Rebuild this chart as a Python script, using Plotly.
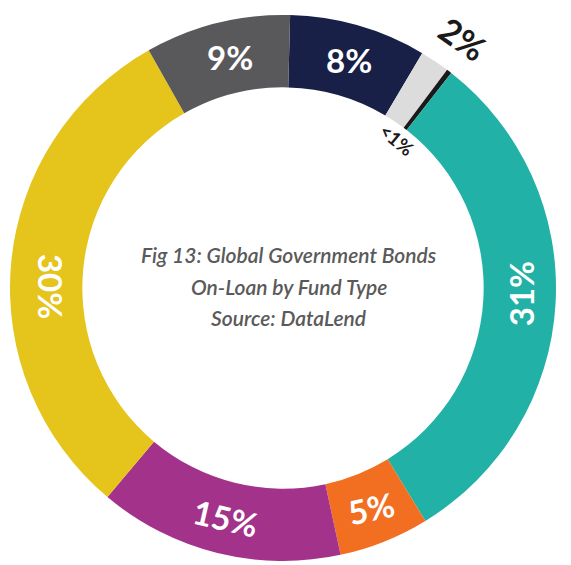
import math
import plotly.graph_objects as go

# Data (clockwise from 12 o'clock)
categories = ["Navy", "Light grey", "Black", "Teal", "Orange", "Purple", "Yellow", "Dark grey"]
values = [8.1, 1.75, 0.3, 30.7, 5.35, 14.5, 30.7, 8.6]
text_labels = ["8%", "2%", "<1%", "31%", "5%", "15%", "30%", "9%"]
title_lines = ["Fig 13: Global Government Bonds", "On-Loan by Fund Type", "Source: DataLend"]

# Styles
colors = ["#182048", "#dcdcdc", "#1a1a1a", "#22b1a6", "#f26f22", "#a3328b", "#e5c41c", "#59595b"]
label_angles = [0, 35, 40, -90, -12, 13, 90, 0]
label_shift = [0, 2, 0, -2, 0, 0, -5, 1]
label_radius = [0.868, 1.125, 0.685, 0.875, 0.868, 0.868, 0.85, 0.868]
label_sizes = [33, 34, 19, 33, 33, 33, 33, 33]
label_colors = ["white", "#1a1a1a", "#1a1a1a", "white", "white", "white", "white", "white"]

W, H = 571, 565
ML, MR, MT, MB = 10, 15, 15, 4
HOLE = 0.735
ROT = 1.5

fig = go.Figure(go.Pie(
    labels=categories,
    values=values,
    textinfo="none",
    sort=False,
    direction="clockwise",
    rotation=ROT,
    hole=HOLE,
    marker=dict(colors=colors, line=dict(width=0)),
    showlegend=False,
    hoverinfo="skip",
))

pw, ph = W - ML - MR, H - MT - MB
R = min(pw, ph) / 2
total = sum(values)
cum = 0
annots = []
for i, (v, t) in enumerate(zip(values, text_labels)):
    mid = (cum + v / 2) / total * 2 * math.pi + math.radians(ROT + label_shift[i])
    cum += v
    r = R * label_radius[i]
    dx = r * math.sin(mid)
    dy = r * math.cos(mid)
    annots.append(dict(
        x=0.5 + dx / pw, y=0.5 + dy / ph, xref="paper", yref="paper",
        text=t, showarrow=False, textangle=label_angles[i],
        font=dict(family="Lato", size=label_sizes[i], color=label_colors[i], weight="bold"),
        xanchor="center", yanchor="middle",
    ))

line_gap = 31.5
for j, line in enumerate(title_lines):
    off = (1 - j) * line_gap
    annots.append(dict(
        x=0.5 + 6 / pw, y=0.5 + (off + 2) / ph, xref="paper", yref="paper", showarrow=False,
        text="<i>" + line + "</i>",
        font=dict(family="Lato", size=21, color="#5a5a5a", weight=600),
        xanchor="center", yanchor="middle",
    ))

fig.update_layout(
    width=W, height=H,
    margin=dict(l=ML, r=MR, t=MT, b=MB),
    paper_bgcolor="white", plot_bgcolor="white",
    annotations=annots,
)

fig.write_html("out.html")
